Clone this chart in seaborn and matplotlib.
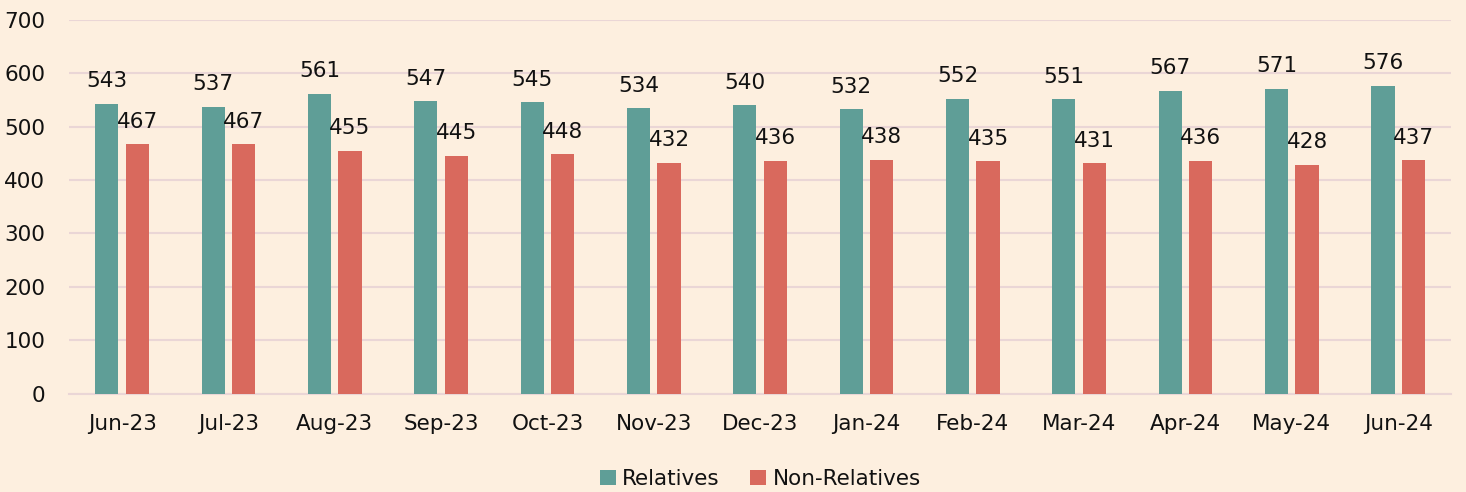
import pandas as pd
import numpy as np
import matplotlib.pyplot as plt
import seaborn as sns

# data
months = ['Jun-23', 'Jul-23', 'Aug-23', 'Sep-23', 'Oct-23', 'Nov-23', 'Dec-23',
          'Jan-24', 'Feb-24', 'Mar-24', 'Apr-24', 'May-24', 'Jun-24']
relatives = [543, 537, 561, 547, 545, 534, 540, 532, 552, 551, 567, 571, 576]
non_relatives = [467, 467, 455, 445, 448, 432, 436, 438, 435, 431, 436, 428, 437]

df = pd.DataFrame({'Month': months * 2,
                   'Value': relatives + non_relatives,
                   'Group': ['Relatives'] * len(months) + ['Non-Relatives'] * len(months)})

bg = '#FDEFDF'
grid_col = '#EAD6D6'
palette = {'Relatives': '#5F9E97', 'Non-Relatives': '#D9695D'}
txt = '#111111'

sns.set_style('white')
plt.rcParams['font.family'] = ['DejaVu Sans']
plt.rcParams['text.color'] = txt

fig, ax = plt.subplots(figsize=(14.66, 4.92), dpi=100)
fig.patch.set_facecolor(bg)
ax.set_facecolor(bg)

sns.barplot(data=df, x='Month', y='Value', hue='Group', palette=palette,
            width=0.575, gap=0.24, ax=ax, saturation=1, zorder=3, linewidth=0)

# value labels above bars
for cont in ax.containers:
    ax.bar_label(cont, padding=9, fontsize=15.5, color=txt)

ax.set_ylim(0, 700)
ax.set_yticks(range(0, 701, 100))
ax.set_xlim(-0.5, len(months) - 0.5)
ax.yaxis.grid(True, color=grid_col, linewidth=1.5, zorder=0)
ax.set_axisbelow(True)

for s in ['top', 'right', 'left']:
    ax.spines[s].set_visible(False)
ax.spines['bottom'].set_color(grid_col)
ax.spines['bottom'].set_linewidth(1.5)

# tick marks at category boundaries
ax.set_xticks(np.arange(-0.5, len(months)), minor=True)
ax.tick_params(axis='x', which='minor', length=7, width=1.5, color=grid_col)
ax.tick_params(axis='x', which='major', length=0, labelsize=15.5, pad=15,
               labelcolor=txt)
ax.tick_params(axis='y', length=0, labelsize=15.5, pad=17, labelcolor=txt)
ax.set_xlabel('')
ax.set_ylabel('')

leg = ax.legend(loc='upper center', bbox_to_anchor=(0.5, -0.15), ncol=2,
                frameon=False, fontsize=15.5, handlelength=0.75, handleheight=0.75,
                handletextpad=0.3, columnspacing=1.4)

plt.subplots_adjust(left=0.047, right=0.99, top=0.96, bottom=0.2)
plt.savefig('out.png', dpi=100, facecolor=bg)
